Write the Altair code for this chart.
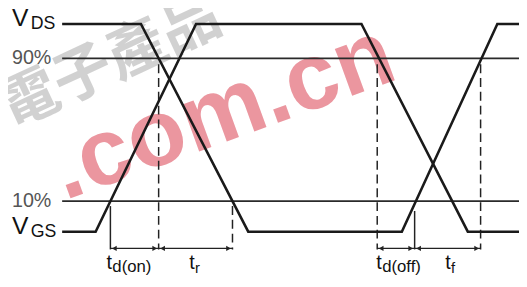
import altair as alt
import pandas as pd

# Waveform A (falls first, rises later) and waveform B (rises first, falls later)
time_a = [63, 143, 252, 408, 505, 527]
lvl_a = [22, 22, 233, 233, 22, 22]
time_b = [63, 97, 199, 367, 475, 527]
lvl_b = [233, 233, 22, 22, 233, 233]

# Reference levels (90% and 10%)
ref_lvl = [57, 202]
ref_start = [63, 63]
ref_end = [527, 527]

# Timing markers
mark_x = [161, 236, 383, 488, 112, 421]
mark_top = [63, 207, 63, 63, 207, 212]
mark_bot = [251, 251, 251, 251, 251, 251]
mark_dash = ["d", "d", "d", "d", "s", "s"]

# Interval arrows
arr_x1 = [112, 161, 383, 421]
arr_x2 = [161, 236, 421, 488]
arr_y = [250, 250, 250, 250]

# Labels
lab_text = ["V", "DS", "90%", "10%", "V", "GS", "t", "d(on)", "t", "r", "t", "d(off)", "t", "f"]
lab_x = [12, 31, 12, 12, 12, 31, 108, 114, 192, 198, 382, 388, 452, 458]
lab_y = [24, 27, 63, 208, 235, 238, 271, 274, 271, 275, 271, 274, 271, 275]
lab_size = [25, 18, 20, 20, 25, 18, 20, 17, 20, 15, 20, 17, 20, 15]
lab_col = ["#111", "#111", "#555", "#555", "#111", "#111", "#111", "#111", "#111", "#111", "#111", "#111", "#111", "#111"]

xs = alt.Scale(domain=[8, 527], nice=False, zero=False)
ys = alt.Scale(domain=[8, 287], nice=False, zero=False, reverse=True)
X = lambda f: alt.X(f, type="quantitative", scale=xs, axis=None)
Y = lambda f: alt.Y(f, type="quantitative", scale=ys, axis=None)

wm = pd.DataFrame({"t": ["電子產品"], "x": [112], "y": [62]})
wm_layer = alt.Chart(wm).mark_text(font="Noto Sans CJK TC", fontSize=60, fontWeight="bold",
                                   angle=335, color="#b4b4b4", opacity=0.6).encode(
    x=X("x"), y=Y("y"), text="t:N")
wm2 = pd.DataFrame({"t": [".com.cn"], "x": [226], "y": [112]})
wm2_layer = alt.Chart(wm2).mark_text(font="Liberation Sans", fontSize=96, fontWeight="bold",
                                     angle=340, color="#e8848f", opacity=0.85).encode(
    x=X("x"), y=Y("y"), text="t:N")

wave = pd.DataFrame({
    "x": time_a + time_b,
    "y": lvl_a + lvl_b,
    "s": ["A"] * len(time_a) + ["B"] * len(time_b),
    "o": list(range(len(time_a))) + list(range(len(time_b))),
})
wave_layer = alt.Chart(wave).mark_line(color="#1a1a1a", strokeWidth=2.6).encode(
    x=X("x"), y=Y("y"), detail="s:N", order="o:Q")

ref = pd.DataFrame({"x": ref_start, "x2": ref_end, "y": ref_lvl})
ref_layer = alt.Chart(ref).mark_rule(color="#2a2a2a", strokeWidth=1.6).encode(
    x=X("x"), x2="x2", y=Y("y"))

mk = pd.DataFrame({"x": mark_x, "y": mark_top, "y2": mark_bot, "d": mark_dash})
dash_layer = alt.Chart(mk[mk.d == "d"]).mark_rule(color="#222", strokeWidth=1.5, strokeDash=[9, 5]).encode(
    x=X("x"), y=Y("y"), y2="y2")
solid_layer = alt.Chart(mk[mk.d == "s"]).mark_rule(color="#222", strokeWidth=1.5).encode(
    x=X("x"), y=Y("y"), y2="y2")

arr = pd.DataFrame({"x": arr_x1, "x2": arr_x2, "y": arr_y})
arr_layer = alt.Chart(arr).mark_rule(color="#222", strokeWidth=1.3).encode(
    x=X("x"), x2="x2", y=Y("y"))
heads = pd.DataFrame({
    "x": [v + 4 for v in arr_x1] + [v - 4 for v in arr_x2],
    "y": arr_y + arr_y,
    "sh": ["triangle-left"] * len(arr_x1) + ["triangle-right"] * len(arr_x2),
})
head_layer = alt.Chart(heads).mark_point(filled=True, color="#222", size=30, opacity=1).encode(
    x=X("x"), y=Y("y"),
    shape=alt.Shape("sh:N", scale=alt.Scale(domain=["triangle-left", "triangle-right"],
                                             range=["triangle-left", "triangle-right"]), legend=None))

labs = pd.DataFrame({"t": lab_text, "x": lab_x, "y": lab_y, "s": lab_size, "c": lab_col})
lab_layer = alt.Chart(labs).mark_text(font="Liberation Sans", align="left", baseline="alphabetic").encode(
    x=X("x"), y=Y("y"), text="t:N",
    size=alt.Size("s:Q", scale=None, legend=None),
    color=alt.Color("c:N", scale=None, legend=None))

chart = alt.layer(wm_layer, wm2_layer, ref_layer, dash_layer, solid_layer, arr_layer, head_layer,
                  wave_layer, lab_layer).properties(
    width=519, height=279, padding=0, autosize=alt.AutoSizeParams(type="none"),
    background="white"
).configure_view(stroke=None)

chart.save("out.html", embed_options={"renderer": "svg", "actions": False})
